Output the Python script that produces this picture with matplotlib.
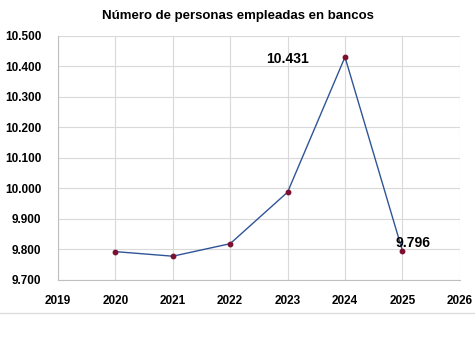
import matplotlib
matplotlib.use("Agg")
import matplotlib.pyplot as plt
from matplotlib.lines import Line2D
from matplotlib.ticker import FuncFormatter

plt.rcParams['font.family'] = ['Liberation Sans', 'DejaVu Sans']

# data
years = [2020, 2021, 2022, 2023, 2024, 2025]
employees = [9793, 9778, 9819, 9988, 10431, 9796]


def miles(v, pos=None):
    return f"{int(round(v)):,}".replace(",", ".")


fig = plt.figure(figsize=(4.75, 3.55), dpi=100)
ax = fig.add_axes([0.122, 0.2113, 0.846, 0.6873])

ax.plot(years, employees, color='#2F5597', linewidth=1.0, zorder=3)
ax.plot(years, employees, linestyle='none', marker='o', markersize=3.2,
        color='#7B1030', zorder=4)

ax.set_xlim(2019, 2026)
ax.set_ylim(9700, 10500)
ax.set_xticks(range(2019, 2027))
ax.set_yticks(range(9700, 10501, 100))
ax.yaxis.set_major_formatter(FuncFormatter(miles))

ax.grid(True, color='#D9D9D9', linewidth=0.8)
ax.set_axisbelow(True)
for side in ['top', 'right']:
    ax.spines[side].set_visible(False)
for side in ['left', 'bottom']:
    ax.spines[side].set_color('#BFBFBF')
    ax.spines[side].set_linewidth(0.8)
ax.tick_params(length=0, labelsize=8.5)
ax.tick_params(axis='x', pad=11)
ax.tick_params(axis='y', pad=12)
for lbl in ax.get_xticklabels() + ax.get_yticklabels():
    lbl.set_fontweight('bold')

# data labels on the last two points
ax.text(2023.0, employees[4] - 5, miles(employees[4]), fontsize=10,
        fontweight='bold', ha='center', va='center')
ax.text(years[5] + 0.18, employees[5] + 24, miles(employees[5]), fontsize=10,
        fontweight='bold', ha='center', va='center')

fig.text(0.5, 0.955, 'Número de personas empleadas en bancos',
         ha='center', va='center', fontsize=9.5, fontweight='bold')

# separator line under the chart
fig.add_artist(Line2D([0, 1], [1 - 313 / 355] * 2, color='#DDDDDD',
                      linewidth=1.0, transform=fig.transFigure))

fig.savefig('out.png', dpi=100, facecolor='white')
